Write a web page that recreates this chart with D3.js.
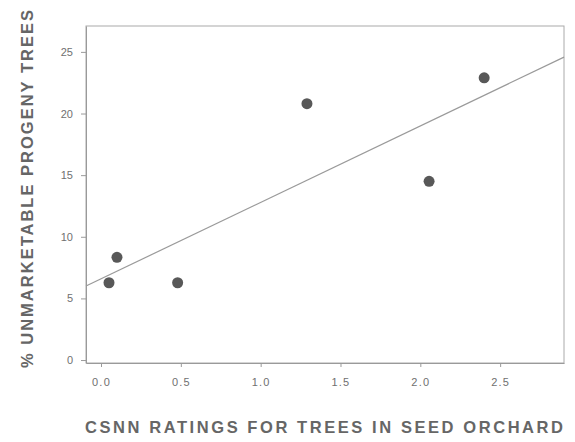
<!DOCTYPE html>
<html>
<head>
<meta charset="utf-8">
<script src="https://cdn.jsdelivr.net/npm/d3@7/dist/d3.min.js"></script>
<style>
  html, body { margin: 0; padding: 0; background: #fff; }
  svg { display: block; }
  .axis text { font-family: "Liberation Sans", Arial, sans-serif; fill: #707070; }
  .axis path, .axis line { stroke: #9a9a9a; }
  .title { font-family: "Liberation Sans", Arial, sans-serif; font-weight: bold; fill: #666; }
</style>
</head>
<body>
<script>
// CSNN rating of each seed-orchard parent vs. % unmarketable progeny
const csnnRatings   = [0.05, 0.10, 0.48, 1.29, 2.055, 2.40];
const pctUnmarket   = [6.27, 8.33, 6.27, 20.8, 14.5, 22.9];
const xTickValues   = [0.0, 0.5, 1.0, 1.5, 2.0, 2.5];
const yTickValues   = [0, 5, 10, 15, 20, 25];
const xTitle = "CSNN RATINGS FOR TREES IN SEED ORCHARD";
const yTitle = "% UNMARKETABLE PROGENY TREES";

const W = 575, H = 442;
const plot = { left: 86, right: 564, top: 26, bottom: 363 };

const svg = d3.select("body").append("svg")
  .attr("width", W).attr("height", H);

const x = d3.scaleLinear().domain([-0.094, 2.90]).range([plot.left, plot.right]);
const y = d3.scaleLinear().domain([-0.24, 27.1]).range([plot.bottom, plot.top]);

// frame (top and right edges)
svg.append("rect")
  .attr("x", plot.left).attr("y", plot.top)
  .attr("width", plot.right - plot.left).attr("height", plot.bottom - plot.top)
  .attr("fill", "none").attr("stroke", "#aaa").attr("stroke-width", 1);

// axes
svg.append("g").attr("class", "axis")
  .attr("transform", `translate(0,${plot.bottom})`)
  .call(d3.axisBottom(x).tickValues(xTickValues).tickFormat(d3.format(".1f"))
        .tickSize(4).tickPadding(11).tickSizeOuter(0))
  .call(g => g.selectAll("text").attr("font-size", 11).attr("letter-spacing", 1.2));

svg.append("g").attr("class", "axis")
  .attr("transform", `translate(${plot.left},0)`)
  .call(d3.axisLeft(y).tickValues(yTickValues).tickFormat(d3.format("d"))
        .tickSize(5).tickPadding(8).tickSizeOuter(0))
  .call(g => g.selectAll("text").attr("font-size", 11));

svg.selectAll(".axis .domain").attr("stroke", "#999");

// least-squares fit line
const n = csnnRatings.length;
const mx = d3.mean(csnnRatings), my = d3.mean(pctUnmarket);
let sxy = 0, sxx = 0;
for (let i = 0; i < n; i++) {
  sxy += (csnnRatings[i] - mx) * (pctUnmarket[i] - my);
  sxx += (csnnRatings[i] - mx) ** 2;
}
const slope = sxy / sxx, intercept = my - slope * mx;
const [x0, x1] = x.domain();
svg.append("line")
  .attr("x1", x(x0)).attr("y1", y(intercept + slope * x0))
  .attr("x2", x(x1)).attr("y2", y(intercept + slope * x1))
  .attr("stroke", "#9a9a9a").attr("stroke-width", 1.2);

// data points
svg.append("g").selectAll("circle")
  .data(csnnRatings.map((v, i) => [v, pctUnmarket[i]]))
  .join("circle")
  .attr("cx", d => x(d[0])).attr("cy", d => y(d[1]))
  .attr("r", 5.5).attr("fill", "#585858");

// axis titles
svg.append("text").attr("class", "title")
  .attr("x", 324).attr("y", 433)
  .attr("text-anchor", "middle").attr("font-size", 16.5)
  .attr("textLength", 478).attr("lengthAdjust", "spacing")
  .text(xTitle);

svg.append("text").attr("class", "title")
  .attr("transform", "translate(33,189) rotate(-90)")
  .attr("text-anchor", "middle").attr("font-size", 16.5)
  .attr("textLength", 358).attr("lengthAdjust", "spacing")
  .text(yTitle);
</script>
</body>
</html>
